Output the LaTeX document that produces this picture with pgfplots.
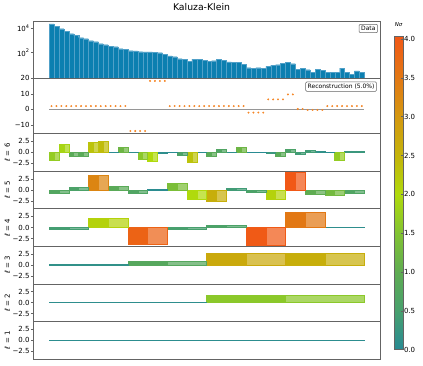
\documentclass[border=0pt]{standalone}
\usepackage{pgfplots}
\pgfplotsset{compat=1.18}
\usepackage{pgfplotstable}
\usepackage{fontspec}
\setmainfont{DejaVu Sans}

\definecolor{databar}{RGB}{12,127,176}
\definecolor{dataedge}{RGB}{80,160,200}
\definecolor{recon}{RGB}{245,135,40}
\definecolor{frame}{RGB}{100,100,100}
\definecolor{zline}{RGB}{150,150,150}

\pgfplotstableread{
i y
0 22500
1 15400
2 9270
3 5680
4 3610
5 2670
6 1700
7 1400
8 964
9 798
10 547
11 453
12 335
13 311
14 213
15 190
16 146
17 138
18 121
19 114
20 114
21 108
22 100
23 78
24 54
25 47
26 32
27 30
28 20
29 30
30 29
31 25
32 20
33 22
34 30
35 24
36 18
37 16
38 17
39 11
40 5.9
41 5.3
42 5.9
43 5.3
44 7.7
45 9
46 10.5
47 14
48 15.5
49 12.5
50 4.5
51 5.5
52 4.0
53 2.5
54 4.2
55 3.6
56 2.5
57 2.5
58 2.5
59 5.5
60 2.5
61 1.6
62 3.3
63 2.6
}\Data

\pgfplotstableread{
i r
0 2.1
1 2.1
2 2.1
3 2.1
4 2.1
5 2.1
6 2.1
7 2.1
8 2.1
9 2.1
10 2.1
11 2.1
12 2.1
13 2.1
14 2.1
15 2.1
16 -14
17 -14
18 -14
19 -14
20 18.3
21 18.3
22 18.3
23 18.3
24 2.1
25 2.1
26 2.1
27 2.1
28 2.1
29 2.1
30 2.1
31 2.1
32 2.1
33 2.1
34 2.1
35 2.1
36 2.1
37 2.1
38 2.1
39 2.1
40 -2.1
41 -2.1
42 -2.1
43 -2.1
44 6.4
45 6.4
46 6.4
47 6.4
48 9.6
49 9.6
50 0.2
51 0.2
52 -0.4
53 -0.4
54 -0.4
55 -0.4
56 2.1
57 2.1
58 2.1
59 2.1
60 2.1
61 2.1
62 2.1
63 2.1
}\Recon

\pgfplotstableread{
k v
0 -1.7
1 1.9
2 -0.9
3 -0.9
4 2.3
5 2.4
6 0.03
7 1.2
8 0.1
9 -1.6
10 -2.0
11 -0.1
12 0.03
13 -0.6
14 -2.3
15 0.05
16 -0.9
17 0.7
18 0.1
19 1.2
20 0.02
21 0.02
22 -0.3
23 -0.9
24 0.6
25 -0.4
26 0.4
27 0.15
28 0.02
29 -1.7
30 0.3
31 0.3
}\Lsix

\pgfplotstableread{
k v
0 -0.75
1 0.6
2 3.3
3 0.9
4 -0.7
5 0.05
6 1.4
7 -2.0
8 -2.6
9 0.4
10 -0.6
11 -2.1
12 4.03
13 -1.0
14 -1.3
15 -0.7
}\Lfive

\pgfplotstableread{
k v
0 -0.45
1 2.1
2 -3.85
3 -0.5
4 0.6
5 -4.0
6 3.5
7 0.1
}\Lfour

\pgfplotstableread{
k v
0 0.15
1 0.8
2 2.7
3 2.6
}\Lthree

\pgfplotstableread{
k v
0 0.1
1 1.6
}\Ltwo

\pgfplotstableread{
k v
0 -0.06
}\Lone

\pgfplotsset{
  colormap={nsig}{rgb255(0)=(40,138,148) rgb255(1)=(72,160,110) rgb255(2)=(95,172,82) rgb255(3)=(130,195,50) rgb255(4)=(176,218,12) rgb255(5)=(196,180,10) rgb255(6)=(212,152,16) rgb255(7)=(226,120,20) rgb255(8)=(240,90,22) rgb255(8.06)=(241,88,22)},
  panel/.style={
    scale only axis, width=346.7pt, anchor=north west,
    xmin=-3.2, xmax=67.2, xtick=\empty,
    axis line style={draw=frame, line width=0.6pt},
    ytick pos=left, tick align=outside, major tick length=2.5pt,
    ytick style={draw=frame, line width=0.5pt},
    yticklabel style={font=\fontsize{7}{8}\selectfont, inner sep=1pt},
    minor tick style={draw=none},
  },
  lpanel/.style={panel, height=37.58pt, ymin=-4.23, ymax=4.23,
    ytick={-2.5,0,2.5}, yticklabels={−2.5,0.0,2.5},
    colormap name=nsig, point meta min=0, point meta max=4.03},
  % bar halves drawn through scatter: #1 = half width of the half-bar (axis units)
  hl/.style={scatter, only marks, mark=*, mark size=0pt,
    point meta={abs(\thisrow{v})},
    visualization depends on={\thisrow{v} \as \val},
    scatter/@pre marker code/.append code={%
      \fill[mapped color] (axis direction cs:-#1,-\val) rectangle (axis direction cs:#1,0);}},
  hr/.style={scatter, only marks, mark=*, mark size=0pt,
    point meta={abs(\thisrow{v})},
    visualization depends on={\thisrow{v} \as \val},
    scatter/@pre marker code/.append code={%
      \fill[mapped color, fill opacity=0.72] (axis direction cs:-#1,-\val) rectangle (axis direction cs:#1,0);}},
}

\begin{document}
\begin{tikzpicture}
\useasboundingbox (0,0) rectangle (423pt,-365pt);

\node[font=\fontsize{9.3}{11}\selectfont] at (201.5pt,-7pt) {Kaluza-Klein};

% Data
\begin{axis}[panel, at={(33.3pt,-21pt)}, height=57pt, ymode=log, ymin=0.84, ymax=39600, log origin=infty,
  ytick={100,10000}, yticklabels={10\textsuperscript{2},10\textsuperscript{4}}]
\addplot[ybar, bar width=1, bar shift=0, fill=databar, draw=dataedge, line width=0.2pt] table[x expr=\thisrow{i}+0.5, y=y] {\Data};
\node[draw=frame, rounded corners=1pt, line width=0.5pt, fill=white, anchor=north east, inner sep=2pt, font=\fontsize{6}{7}\selectfont] at (rel axis cs:0.9934,0.947) {Data};
\end{axis}

% Reconstruction
\begin{axis}[panel, at={(33.3pt,-78pt)}, height=55.5pt, ymin=-15.6, ymax=20.2,
  ytick={-10,0,10,20}, yticklabels={−10,0,10,20},
  colormap name=nsig, point meta min=0, point meta max=4.03, colorbar,
  colorbar style={
    at={(parent axis.north east)}, anchor=north west, xshift=6pt, yshift=41.3pt,
    scale only axis, width=8.3pt, height=313pt,
    ytick={0,0.5,1,1.5,2,2.5,3,3.5,4},
    ytick pos=right, yticklabel pos=right,
    yticklabel={\pgfmathprintnumber[fixed,fixed zerofill,precision=1,assume math mode=true]{\tick}},
    yticklabel style={font=\fontsize{7}{8}\selectfont, inner sep=1pt},
    axis line style={draw=frame, line width=0.5pt},
    ytick style={draw=frame, line width=0.5pt},
    major tick length=2pt,
    title={\textit{Nσ}},
    title style={at={(0.5,1)}, anchor=south, yshift=1pt, font=\fontsize{5.5}{6}\selectfont},
  }]
\addplot[zline, line width=0.6pt] coordinates {(0,0) (64,0)};
\addplot[only marks, mark=*, mark size=0.75pt, recon] table[x expr=\thisrow{i}+0.5, y=r] {\Recon};
\node[draw=frame, rounded corners=1pt, line width=0.5pt, fill=white, anchor=north east, inner sep=2pt, font=\fontsize{6}{7}\selectfont] at (rel axis cs:0.9905,0.933) {Reconstruction (5.0\%)};
\end{axis}

% l = 6
\begin{axis}[lpanel, at={(33.3pt,-133.5pt)}]
\addplot[zline, line width=0.6pt] coordinates {(0,0) (64,0)};
\addplot[hl=0.5] table[x expr={\thisrow{k}*2+0.5}, y=v] {\Lsix};
\addplot[hr=0.5] table[x expr={\thisrow{k}*2+1.5}, y=v] {\Lsix};
\end{axis}

% l = 5
\begin{axis}[lpanel, at={(33.3pt,-171.08pt)}]
\addplot[zline, line width=0.6pt] coordinates {(0,0) (64,0)};
\addplot[hl=1] table[x expr={\thisrow{k}*4+1}, y=v] {\Lfive};
\addplot[hr=1] table[x expr={\thisrow{k}*4+3}, y=v] {\Lfive};
\end{axis}

% l = 4
\begin{axis}[lpanel, at={(33.3pt,-208.66pt)}]
\addplot[zline, line width=0.6pt] coordinates {(0,0) (64,0)};
\addplot[hl=2] table[x expr={\thisrow{k}*8+2}, y=v] {\Lfour};
\addplot[hr=2] table[x expr={\thisrow{k}*8+6}, y=v] {\Lfour};
\end{axis}

% l = 3
\begin{axis}[lpanel, at={(33.3pt,-246.24pt)}]
\addplot[zline, line width=0.6pt] coordinates {(0,0) (64,0)};
\addplot[hl=4] table[x expr={\thisrow{k}*16+4}, y=v] {\Lthree};
\addplot[hr=4] table[x expr={\thisrow{k}*16+12}, y=v] {\Lthree};
\end{axis}

% l = 2
\begin{axis}[lpanel, at={(33.3pt,-283.82pt)}]
\addplot[zline, line width=0.6pt] coordinates {(0,0) (64,0)};
\addplot[hl=8] table[x expr={\thisrow{k}*32+8}, y=v] {\Ltwo};
\addplot[hr=8] table[x expr={\thisrow{k}*32+24}, y=v] {\Ltwo};
\end{axis}

% l = 1
\begin{axis}[lpanel, at={(33.3pt,-321.4pt)}]
\addplot[zline, line width=0.6pt] coordinates {(0,0) (64,0)};
\addplot[hl=16] table[x expr={\thisrow{k}*64+16}, y=v] {\Lone};
\addplot[hr=16] table[x expr={\thisrow{k}*64+48}, y=v] {\Lone};
\end{axis}

\foreach \lab/\yc in {6/152.3, 5/189.9, 4/227.5, 3/265.0, 2/302.6, 1/340.2}
  \node[rotate=90, font=\fontsize{7}{8}\selectfont] at (7.3pt,-\yc pt) {\textit{ℓ} = \lab};
\end{tikzpicture}
\end{document}
